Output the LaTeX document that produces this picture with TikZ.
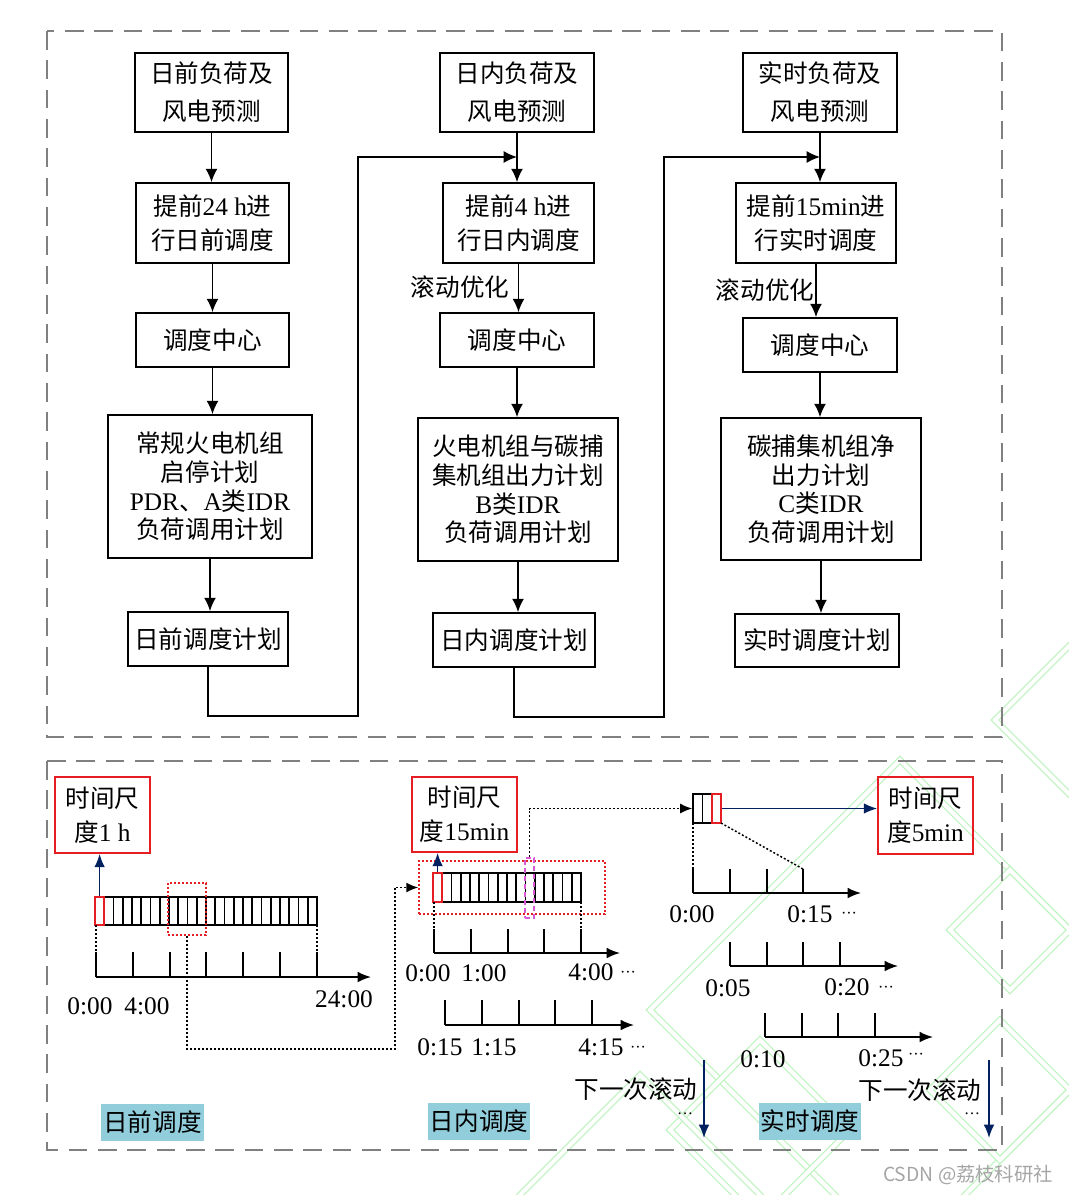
\documentclass[tikz,border=0pt]{standalone}
\usepackage{fontspec}
\setmainfont{Liberation Serif}
\newfontfamily\cjk[Scale=0.97]{Noto Sans CJK SC}
\newfontfamily\wmfont{Noto Sans CJK SC}
\usetikzlibrary{arrows.meta}
\newcommand\C[1]{{\cjk #1}}
\definecolor{frgray}{RGB}{128,128,128}
\definecolor{navy}{RGB}{0,32,96}
\definecolor{rred}{RGB}{230,30,35}
\definecolor{mag}{RGB}{215,90,215}
\definecolor{lblue}{RGB}{146,205,220}
\definecolor{wmgreen}{RGB}{190,242,190}
\definecolor{wmgray}{RGB}{165,165,165}
\tikzset{
  sz/.style 2 args={minimum width=#1*0.75pt, minimum height=#2*0.75pt},
  fbox/.style={draw, line width=1.3pt, inner sep=0pt, align=center, font=\fontsize{19}{28.5}\selectfont},
  fbox4/.style={fbox, font=\fontsize{19}{21.4}\selectfont},
  fbox2/.style={fbox, font=\fontsize{19}{25.5}\selectfont},
  farr/.style={line width=1.2pt, -{Latex[length=10pt,width=9pt]}},
  axarr/.style={line width=1.2pt, -{Latex[length=10pt,width=8pt]}},
  tick/.style={line width=1.2pt},
  cellline/.style={line width=1.2pt},
  narr/.style={draw=navy, line width=1.2pt, -{Latex[length=10pt,width=8pt]}},
  dotl/.style={line width=1.1pt, dash pattern=on 1.5pt off 1.5pt},
  dotarr/.style={dotl, -{Latex[length=9pt,width=7.5pt]}},
  rbox/.style={draw=rred, line width=1.3pt, inner sep=0pt, align=center, font=\fontsize{19}{25.5}\selectfont},
  rdot/.style={draw=rred, line width=1.1pt, dash pattern=on 1.5pt off 1.5pt, inner sep=0pt},
  rcell/.style={draw=rred, line width=1.2pt, inner sep=0pt},
  mbox/.style={draw=mag, line width=1.2pt, dash pattern=on 4pt off 2pt, inner sep=0pt},
  lab/.style={inner sep=0pt, font=\fontsize{19}{19}\selectfont},
  dots/.style={inner sep=0pt, font=\fontsize{12}{12}\selectfont},
  bglab/.style={fill=lblue, inner xsep=1.5pt, inner ysep=0pt, minimum height=28pt, font=\fontsize{19}{19}\selectfont},
  frame/.style={draw=frgray, line width=2pt, dash pattern=on 14pt off 8pt},
  wm/.style={draw=wmgreen, line width=1pt, double=white, double distance=3pt},
}
\begin{document}
\begin{tikzpicture}[x=0.75pt,y=-0.75pt]
\useasboundingbox (0,0) rectangle (1069,1195);
% watermark pattern
\begin{scope}
\clip (0,0) rectangle (1069,1195);
\foreach \cx/\cy/\h in {900/1010/250, 1010/930/60, 1070/720/75, 760/1130/90, 1000/1090/70, 640/1195/120}
  \draw[wm] ({\cx},{\cy-\h}) -- ({\cx+\h},{\cy}) -- ({\cx},{\cy+\h}) -- ({\cx-\h},{\cy}) -- cycle;
\end{scope}
% frames
\draw[frame] (47,31) rectangle (1002,737);
\draw[frame] (47,761) rectangle (1002,1150);

% column 1
\node[fbox, sz={153}{79}] (A1) at (211.5,92.5) {\C{日前负荷及}\\\C{风电预测}};
\node[fbox2, sz={153}{80}] (A2) at (212.5,223) {\C{提前}24 h\C{进}\\\C{行日前调度}};
\node[fbox, sz={153}{54}] (A3) at (212.5,340) {\C{调度中心}};
\node[fbox4, sz={204}{143}] (A4) at (210,486.5) {\C{常规火电机组}\\\C{启停计划}\\PDR\C{、}A\C{类}IDR\\\C{负荷调用计划}};
\node[fbox, sz={160}{54}] (A5) at (208,639) {\C{日前调度计划}};
% column 2
\node[fbox, sz={154}{79}] (B1) at (517,92.5) {\C{日内负荷及}\\\C{风电预测}};
\node[fbox2, sz={151}{80}] (B2) at (518.5,223) {\C{提前}4 h\C{进}\\\C{行日内调度}};
\node[fbox, sz={154}{54}] (B3) at (517,340) {\C{调度中心}};
\node[fbox4, sz={200}{143}] (B4) at (518,489.5) {\C{火电机组与碳捕}\\\C{集机组出力计划}\\B\C{类}IDR\\\C{负荷调用计划}};
\node[fbox, sz={162}{54}] (B5) at (514,640) {\C{日内调度计划}};
% column 3
\node[fbox, sz={154}{79}] (C1) at (820,92.5) {\C{实时负荷及}\\\C{风电预测}};
\node[fbox2, sz={160}{80}] (C2) at (816,223) {\C{提前}15min\C{进}\\\C{行实时调度}};
\node[fbox, sz={154}{54}] (C3) at (820,345) {\C{调度中心}};
\node[fbox4, sz={200}{142}] (C4) at (821,489) {\C{碳捕集机组净}\\\C{出力计划}\\C\C{类}IDR\\\C{负荷调用计划}};
\node[fbox, sz={164}{53}] (C5) at (817,640.5) {\C{实时调度计划}};

% vertical arrows
\draw[farr] (A1.south) -- (A1.south |- A2.north);
\draw[farr] (A2.south) -- (A2.south |- A3.north);
\draw[farr] (A3.south) -- (A3.south |- A4.north);
\draw[farr] (A4.south) -- (A4.south |- A5.north);
\draw[farr] (B1.south) -- (B1.south |- B2.north);
\draw[farr] (B2.south) -- (B2.south |- B3.north);
\draw[farr] (B3.south) -- (B3.south |- B4.north);
\draw[farr] (B4.south) -- (B4.south |- B5.north);
\draw[farr] (C1.south) -- (C1.south |- C2.north);
\draw[farr] (C2.south) -- (C2.south |- C3.north);
\draw[farr] (C3.south) -- (C3.south |- C4.north);
\draw[farr] (C4.south) -- (C4.south |- C5.north);
% feedback lines
\coordinate (f1) at (358,716);
\coordinate (j1) at (517,157);
\draw[farr] (A5.south) |- (f1) |- (j1);
\coordinate (f2) at (664,717);
\coordinate (j2) at (820,157);
\draw[farr] (B5.south) |- (f2) |- (j2);
% rolling labels
\node[lab] (R1) at (460,287) {\C{滚动优化}};
\node[lab] (R2) at (765,290) {\C{滚动优化}};

% ===== bottom: day-ahead =====
\node[rbox, sz={95}{76}] (T1) at (102.5,815) {\C{时间尺}\\\C{度}1 h};
\draw[cellline] (95,897) rectangle (317,925);
\foreach \i in {1,...,23} \draw[cellline] ({95+\i*9.25},897) -- ({95+\i*9.25},925);
\node[rcell, sz={9.25}{28}] (r1) at (99.6,911) {};
\node[rdot, sz={38}{52}] (d1) at (187,909) {};
\draw[narr] (r1.north) -- (r1.north |- T1.south);
\draw[dotl] (96,925) -- (96,952);
\draw[dotl] (317,925) -- (317,952);
\foreach \x in {96,133,170,206,243,280,317} \draw[tick] (\x,952) -- (\x,977);
\draw[axarr] (96,977) -- (371,977);
\node[lab] (l1) at (90,1006) {0:00};
\node[lab] (l2) at (147,1006) {4:00};
\node[lab] (l3) at (344,999) {24:00};
\node[bglab] (L1) at (152.5,1122.5) {\C{日前调度}};

% ===== intraday =====
\node[rbox, sz={105}{75}] (T2) at (464.5,814.5) {\C{时间尺}\\\C{度}15min};
\node[rdot, sz={186}{53}] (d2) at (512,887.5) {};
\draw[cellline] (433,873) rectangle (581,902);
\foreach \i in {1,...,15} \draw[cellline] ({433+\i*9.25},873) -- ({433+\i*9.25},902);
\node[rcell, sz={9.25}{29}] (r2) at (437.6,887.5) {};
\node[mbox, sz={9}{60}] (m2) at (529.5,888) {};
\draw[narr] (r2.north) -- (r2.north |- T2.south);
\coordinate (k1) at (395,1049);
\draw[dotarr] (d1.south) |- (k1) |- (d2.west);
\draw[dotl] (434,902) -- (434,929);
\draw[dotl] (581,902) -- (581,929);
\foreach \x in {434,471,508,544,581} \draw[tick] (\x,929) -- (\x,953);
\draw[axarr] (434,953) -- (620,953);
\foreach \x in {445,482,519,555,592} \draw[tick] (\x,1000) -- (\x,1025);
\draw[axarr] (445,1025) -- (634,1025);
\node[lab] (i1) at (428,973) {0:00};
\node[lab] (i2) at (484,973) {1:00};
\node[lab] (i3) at (591,972) {4:00};
\node[dots] (i4) at (628,974) {···};
\node[lab] (i5) at (440,1047) {0:15};
\node[lab] (i6) at (494,1047) {1:15};
\node[lab] (i7) at (601,1047) {4:15};
\node[dots] (i8) at (638,1049) {···};
\node[lab] (n1) at (636,1089) {\C{下一次滚动}};
\node[dots] (e1) at (685,1114) {…};
\coordinate (v1a) at (704,1060);
\coordinate (v1b) at (704,1138);
\draw[narr] (v1a) -- (v1b);
\node[bglab] (L2) at (479,1121.5) {\C{日内调度}};

% ===== real-time =====
\node[rbox, sz={95}{77}] (T3) at (925.5,815.5) {\C{时间尺}\\\C{度}5min};
\node[draw, cellline, inner sep=0pt, sz={28}{29}] (b3) at (707,808.5) {};
\draw[cellline] (702.3,794) -- (702.3,823);
\node[rcell, sz={9.3}{29}] (r3) at (716.4,808.5) {};
\draw[narr] (r3.east) -- (r3.east -| T3.west);
\draw[dotarr] (m2.north) |- (b3.west);
\draw[dotl] (693,823) -- (693,869);
\draw[dotl] (721,823) -- (803,869);
\foreach \x in {693,730,767,803} \draw[tick] (\x,869) -- (\x,893);
\draw[axarr] (693,893) -- (861,893);
\foreach \x in {730,767,803,840} \draw[tick] (\x,942) -- (\x,966);
\draw[axarr] (730,966) -- (898,966);
\foreach \x in {765,802,838,875} \draw[tick] (\x,1013) -- (\x,1037);
\draw[axarr] (765,1037) -- (933,1037);
\node[lab] (t1) at (692,914) {0:00};
\node[lab] (t2) at (810,914) {0:15};
\node[dots] (t3) at (849,915) {···};
\node[lab] (t4) at (728,988) {0:05};
\node[lab] (t5) at (847,987) {0:20};
\node[dots] (t6) at (886,989) {···};
\node[lab] (t7) at (763,1059) {0:10};
\node[lab] (t8) at (881,1058) {0:25};
\node[dots] (t9) at (916,1056) {···};
\node[lab] (n2) at (920,1090) {\C{下一次滚动}};
\node[dots] (e2) at (972,1114) {…};
\coordinate (v2a) at (989,1060);
\coordinate (v2b) at (989,1138);
\draw[narr] (v2a) -- (v2b);
\node[bglab] (L3) at (810,1121.5) {\C{实时调度}};

% watermark text
\node[inner sep=0pt, text=wmgray, font=\wmfont\fontsize{14.5}{14.5}\selectfont] (wmt) at (968,1175) {CSDN @荔枝科研社};
\end{tikzpicture}
\end{document}
